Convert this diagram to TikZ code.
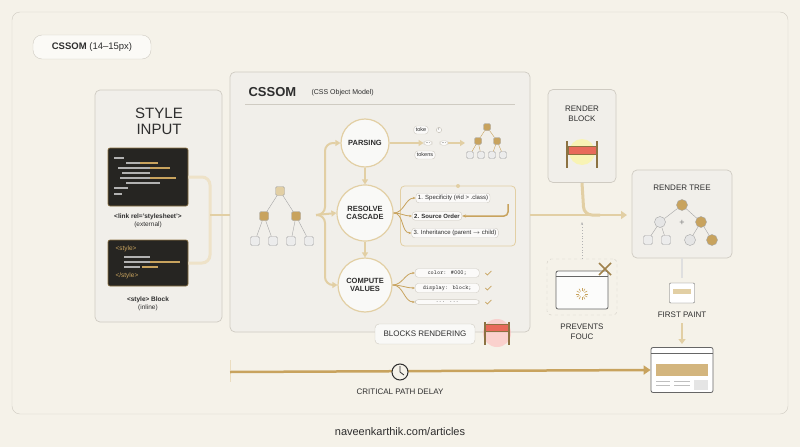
\documentclass[tikz,border=0pt]{standalone}
\usepackage{fontspec}
\setmainfont{Liberation Sans}
\usetikzlibrary{arrows.meta,shapes.geometric,calc}
\definecolor{bg}{HTML}{F5F2E9}
\definecolor{gold}{HTML}{C8A35E}
\definecolor{goldl}{HTML}{E2CFA4}
\definecolor{ink}{HTML}{2E2E2E}
\definecolor{panel}{HTML}{F1EFEA}
\definecolor{edge}{HTML}{CFCBC2}
\definecolor{dark}{HTML}{262522}
\definecolor{redb}{HTML}{E86A5A}
\begin{document}
\begin{tikzpicture}[x=1pt,y=-1pt,
  txt/.style={text=ink,font=\fontsize{7}{8}\selectfont,align=center},
  lbl/.style={text=ink,font=\fontsize{8}{9.5}\selectfont\bfseries,align=center},
  pnl/.style={draw=edge,fill=panel,rounded corners=5pt,line width=0.7pt},
  pill/.style={draw=edge,fill=white!70!panel,rounded corners=3pt,inner sep=2pt,text=ink,font=\fontsize{5.5}{6}\selectfont},
  circ/.style={circle,draw=goldl,fill=white!60!panel,line width=1.2pt,minimum size=#1,text=ink,font=\fontsize{7.5}{8.5}\selectfont\bfseries,align=center,inner sep=0},
  garr/.style={draw=goldl,line width=2.5pt,-{Triangle[length=6pt,width=8pt]},color=goldl},
  thin/.style={draw=gold,line width=0.8pt,-{Stealth[length=3pt]}},
  sq/.style={draw=gray!70,fill=#1,rounded corners=1.5pt,minimum size=9pt,inner sep=0},
  sq/.default=gray!15,
  dot/.style={circle,draw=gray!70,fill=#1,minimum size=11pt,inner sep=0},
  dot/.default=gray!20,
  code/.style={fill=dark,draw=gold!70!black,rounded corners=2pt,line width=0.6pt}]
\fill[bg] (0,0) rectangle (800,447);
\draw[edge,rounded corners=8pt] (12,12) rectangle (788,414);
% title
\node[draw=edge,fill=white!60!bg,rounded corners=9pt,minimum width=118pt,minimum height=24pt,font=\fontsize{9.5}{10}\selectfont,text=ink] (title) at (92,47) {\textbf{CSSOM} (14–15px)};
% style input panel
\node[pnl,minimum width=127pt,minimum height=232pt] (sip) at (158.5,206) {};
\node[text=ink,font=\fontsize{15}{16}\selectfont,align=center] (sit) at (159,121) {STYLE\\INPUT};
\node[code,minimum width=80pt,minimum height=58pt] (c1) at (148,177) {};
\foreach \y/\a/\b in {158/114/124,163/126/158,168/118/170,173/122/150,178/120/176,183/126/160,188/114/128,194/114/122}{
  \draw[gray!60,line width=1.2pt] (\a,\y) -- (\b,\y);}
\draw[gold,line width=1.2pt] (140,163)--(158,163) (150,178)--(176,178) (150,168)--(170,168);
\node[txt,font=\fontsize{6.5}{7.5}\selectfont] (l1) at (148,221) {\textbf{<link rel='stylesheet'>}\\(external)};
\node[code,minimum width=80pt,minimum height=46pt] (c2) at (148,263) {};
\node[anchor=west,text=gold,font=\fontsize{6.5}{7}\selectfont] (s1) at (112,249) {<style>};
\node[anchor=west,text=gold,font=\fontsize{6.5}{7}\selectfont] (s2) at (112,276) {</style>};
\draw[gray!60,line width=1.2pt] (124,257)--(150,257) (124,262)--(160,262) (124,267)--(140,267);
\draw[gold,line width=1.2pt] (150,262)--(180,262) (142,267)--(158,267);
\node[txt,font=\fontsize{6.5}{7.5}\selectfont] (l2) at (148,304) {\textbf{<style> Block}\\(inline)};
\coordinate (m) at (210,215);
\draw[goldl!60,line width=3pt,rounded corners=8pt] (c1.east) -- (210,177) -- (210,263) -- (c2.east);
\draw[garr] (m) -- (243,215);
% CSSOM panel
\node[pnl,minimum width=300pt,minimum height=260pt] (cp) at (380,202) {};
\node[anchor=west,text=ink,font=\fontsize{13}{14}\selectfont\bfseries] (ct) at (245,92) {CSSOM};
\node[anchor=west,text=ink,font=\fontsize{7}{8}\selectfont] (cs) at (308,93) {(CSS Object Model)};
\draw[edge] (245,104) -- (515,104);
% tree
\node[sq=goldl] (t0) at (280,191) {};
\node[sq=gold] (t1) at (264,216) {};
\node[sq=gold] (t2) at (296,216) {};
\foreach \i/\x in {1/255,2/273,3/291,4/309}{\node[sq] (b\i) at (\x,241) {};}
\draw[gray!70] (t0)--(t1) (t0)--(t2) (t1)--(b1) (t1)--(b2) (t2)--(b3) (t2)--(b4);
% circles
\node[circ=48pt] (pa) at (365,143) {PARSING};
\node[circ=56pt] (rc) at (365,213) {RESOLVE\\CASCADE};
\node[circ=54pt] (cv) at (365,285) {COMPUTE\\VALUES};
\coordinate (br) at (316,215);
\draw[goldl,line width=2pt,rounded corners=8pt,-{Triangle[length=5pt,width=6pt]}] (br) -- (325,215) -- (325,143) -- (pa.west);
\draw[goldl,line width=2pt,rounded corners=8pt,-{Triangle[length=5pt,width=6pt]}] (br) -- (325,215) -- (325,285) -- (cv.west);
\draw[goldl,line width=2pt,-{Triangle[length=5pt,width=6pt]}] (br) -- (rc.west);
\draw[goldl,line width=2pt,-{Triangle[length=5pt,width=6pt]}] (pa.south) -- (rc.north);
\draw[goldl,line width=2pt,-{Triangle[length=5pt,width=6pt]}] (rc.south) -- (cv.north);
% tokens
\node[pill] (k1) at (421,130) {toke};
\node[pill] (k2) at (439,130) {,};
\node[pill] (k3) at (428,143) {...};
\node[pill] (k4) at (444,143) {...};
\node[pill] (k5) at (425,155) {tokens};
\draw[goldl,line width=2pt,-{Triangle[length=5pt,width=6pt]}] (pa.east) -- (k3.west);
\draw[goldl,line width=2pt,-{Triangle[length=5pt,width=6pt]}] (k4.east) -- (465,143);
\node[sq=gold,minimum size=7pt] (p0) at (487,127) {};
\node[sq=gold,minimum size=7pt] (p1) at (478,141) {};
\node[sq=gold,minimum size=7pt] (p2) at (497,141) {};
\foreach \i/\x in {1/470,2/481,3/492,4/503}{\node[sq,minimum size=7pt] (q\i) at (\x,155) {};}
\draw[gold] (p0)--(p1) (p0)--(p2) (p1)--(q1) (p1)--(q2) (p2)--(q3) (p2)--(q4);
% cascade box
\node[draw=goldl,rounded corners=4pt,minimum width=115pt,minimum height=60pt,line width=0.8pt] (cb) at (458,216) {};
\node[circle,fill=goldl,minimum size=4pt,inner sep=0] (cbd) at (458,186) {};
\node[pill,font=\fontsize{6}{7}\selectfont] (r1) at (453,198) {1. Specificity (\#id > .class)};
\node[pill,font=\fontsize{6}{7}\selectfont] (r2) at (437,216) {\textbf{2. Source Order}};
\node[pill,font=\fontsize{6}{7}\selectfont] (r3) at (455,233) {3. Inheritance (parent $\rightarrow$ child)};
\foreach \r in {r1,r2,r3}{\draw[thin] (rc.east) to[out=0,in=180] (\r.west);}
\draw[gold,line width=1.5pt,rounded corners=4pt,-{Stealth[length=4pt]}] (508,204) -- (508,216) -- (r2.east);
% compute pills
\node[pill,font=\ttfamily\fontsize{6}{7}\selectfont,minimum width=64pt,anchor=west] (v1) at (415,273) {color: \#000;};
\node[pill,font=\ttfamily\fontsize{6}{7}\selectfont,minimum width=64pt,anchor=west] (v2) at (415,288) {display: block;};
\node[pill,font=\ttfamily\fontsize{6}{7}\selectfont,minimum width=64pt,anchor=west] (v3) at (415,302) {... ...};
\foreach \v in {v1,v2,v3}{\draw[thin] (cv.east) to[out=0,in=180] (\v.west);
  \draw[gold,line width=0.8pt] ($(\v.east)+(6,0)$) -- ++(2,2) -- ++(4,-4);}
% blocks rendering
\node[draw=edge,fill=white!60!panel,rounded corners=4pt,minimum width=100pt,minimum height=20pt,text=ink,font=\fontsize{8}{9}\selectfont] (blr) at (425,334) {BLOCKS RENDERING};
\fill[red!30,opacity=0.5] (497,333) circle (14);
\node[fill=redb,draw=gold!70!black,minimum width=24pt,minimum height=7pt,inner sep=0] (bar1) at (497,328) {};
\draw[gold!70!black,line width=1.5pt] (485,322)--(485,345) (509,322)--(509,345);
% main arrow
\coordinate (cpe) at (530,215);
\draw[garr] (cpe) -- (627,215);
% render block
\node[pnl,minimum width=68pt,minimum height=93pt] (rb) at (582,136) {};
\node[lbl,font=\fontsize{8}{10}\selectfont] (rbt) at (582,114) {RENDER\\BLOCK};
\fill[yellow!50,opacity=0.5] (582,152) circle (13);
\node[fill=redb,draw=gold!70!black,minimum width=28pt,minimum height=8pt,inner sep=0] (bar2) at (582,150) {};
\draw[gold!70!black,line width=1.8pt] (567,141)--(567,168) (597,141)--(597,168);
\draw[goldl,line width=3pt,rounded corners=8pt] (rb.south) -- (584,215) -- (600,215);
% render tree
\node[pnl,minimum width=100pt,minimum height=88pt] (rt) at (682,214) {};
\node[lbl,font=\fontsize{8}{9}\selectfont] (rtt) at (682,188) {RENDER TREE};
\node[dot=gold] (u0) at (682,205) {};
\node[dot] (u1) at (660,222) {};
\node[dot=gold] (u2) at (701,222) {};
\node[sq] (u3) at (648,240) {};
\node[sq] (u4) at (666,240) {};
\node[dot] (u5) at (690,240) {};
\node[dot=gold] (u6) at (712,240) {};
\node[text=gray,font=\fontsize{9}{9}\selectfont] (plus) at (682,223) {+};
\draw[gray!70] (u0)--(u1) (u0)--(u2) (u1)--(u3) (u1)--(u4) (u2)--(u5) (u2)--(u6);
% FOUC
\node[draw=edge,dashed,rounded corners=4pt,minimum width=70pt,minimum height=56pt] (fb) at (582,287) {};
\node[draw=gray!80!black,fill=white!80!panel,rounded corners=2pt,minimum width=52pt,minimum height=38pt,line width=0.8pt] (fw) at (582,290) {};
\draw[gray!80!black] (556,276) -- (608,276);
\foreach \a in {0,30,...,330}{\draw[gold,line width=0.6pt] (582,294) ++(\a:3) -- ++(\a:3);}
\draw[gold!80!black,line width=1.6pt] (599,263) -- (611,275) (611,263) -- (599,275);
\node[lbl,font=\fontsize{8}{10}\selectfont] (fct) at (582,332) {PREVENTS\\FOUC};
\draw[gray!60,dotted,line width=0.8pt,-{Stealth[length=3pt]}] (fb.north) -- (582,222);
% first paint
\draw[gray!25,line width=2pt] (rt.south) -- (682,278);
\node[draw=gray!80!black,fill=white,rounded corners=1pt,minimum width=25pt,minimum height=20pt] (fp) at (682,293) {};
\fill[goldl] (673,289) rectangle (691,294);
\node[lbl,font=\fontsize{8}{9}\selectfont] (fpt) at (682,315) {FIRST PAINT};
\draw[goldl,line width=2.5pt,-{Triangle[length=5pt,width=7pt]}] (682,323) -- (682,344);
\node[draw=gray!80!black,fill=white,rounded corners=2pt,minimum width=62pt,minimum height=45pt,line width=0.8pt] (fin) at (682,370) {};
\draw[gray!80!black] (651,353) -- (713,353);
\fill[gold!80] (656,364) rectangle (708,376);
\fill[gray!20] (694,380) rectangle (708,390);
\draw[gray!50] (656,381)--(670,381) (674,381)--(690,381) (656,385)--(670,385) (674,385)--(690,385);
% critical path
\draw[goldl!70,line width=1pt] (230,360) -- (230,382);
\coordinate (cs0) at (230,372);
\draw[gold,line width=2.5pt,-{Triangle[length=7pt,width=9pt]}] (cs0) -- (fin.west);
\node[circle,draw=ink,fill=bg,line width=1pt,minimum size=16pt] (clk) at (400,372) {};
\draw[ink,line width=0.8pt] (400,372) -- (400,366) (400,372) -- (404,375);
\node[lbl,font=\fontsize{8}{9}\selectfont] (cpd) at (400,392) {CRITICAL PATH DELAY};
% footer
\node[text=ink,font=\fontsize{11}{12}\selectfont] (foot) at (400,432) {naveenkarthik.com/articles};
\end{tikzpicture}
\end{document}
